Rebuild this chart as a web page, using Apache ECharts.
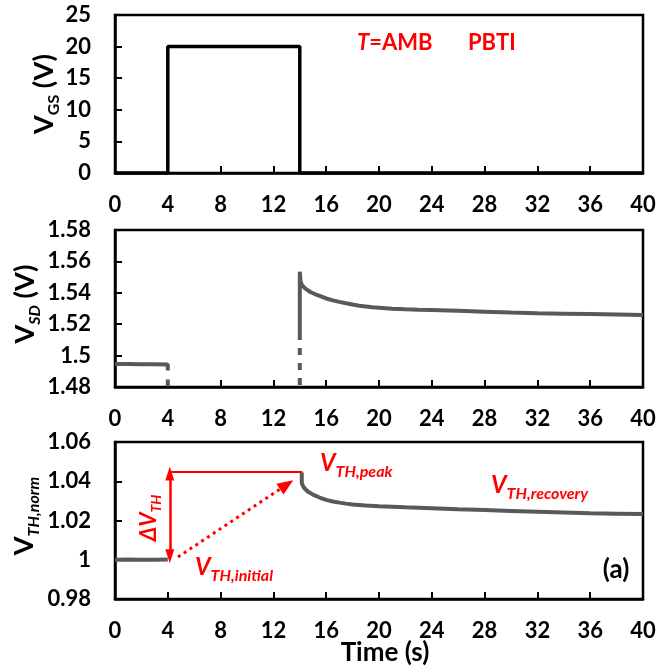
<!DOCTYPE html>
<html><head><meta charset="utf-8">
<script src="https://cdn.jsdelivr.net/npm/echarts@6/dist/echarts.min.js"></script>
<style>html,body{margin:0;padding:0;background:#fff}#c{width:660px;height:668px}</style>
</head><body><div id="c"></div>
<script>
// ---- data (time in s) ----
const vgsPulse = [[0,0],[4,0],[4,20],[14,20],[14,0],[40,0]];

const vsdBefore = [[0,1.4946],[1,1.4946],[2,1.4945],[3,1.4945],[4,1.4944],[4,1.4905]];
const vsdGapAt4 = [[4,1.4848],[4,1.48]];
const vsdGapAt14 = [[14,1.5048],[14,1.48]];
const vsdAfter = [[14,1.5099],[14,1.5534],[14.05,1.5480],[14.15,1.5450],[14.4,1.5428],[14.8,1.5405],
  [15.3,1.5386],[16,1.5364],[16.5,1.5352],[17,1.5342],[17.5,1.5333],[18,1.5325],[18.5,1.5318],
  [19,1.5313],[19.5,1.5308],[20,1.5305],[21,1.5299],[22,1.5295],[23,1.5292],
  [24,1.5290],[26,1.5285],[28,1.5280],[30,1.5274],[32,1.5269],[34,1.5267],[36,1.5265],[38,1.5262],[40,1.5259]];

const vthBefore = [[0,1.0000],[1,1.0001],[2,1.0000],[3,1.0000],[4,1.0001]];
const vthAfter = [[14.15,1.0444],[14.15,1.0390],[14.3,1.0368],[14.6,1.0348],[15,1.0332],[15.5,1.0317],
  [16,1.0305],[16.5,1.0297],[17,1.0291],[17.5,1.0286],[18,1.0282],[19,1.0277],[20,1.0273],[21,1.0270],[22,1.0267],[24,1.0262],[26,1.0257],
  [28,1.0253],[30,1.0249],[32,1.0245],[34,1.0241],[36,1.0237],[38,1.0235],[40,1.0233]];

// annotation anchors (data coordinates)
const peakLevelLine = [[4.15,1.0449],[14.2,1.0449]];
const deltaArrow = [[4.15,1.0440],[4.15,1.0018]];
const driftArrow = [[4.77,1.0014],[13.0,1.0382]];

// axis ranges / ticks
const timeRange = [0, 40, 4];
const vgsRange = [0, 25, 5];
const vsdRange = [1.48, 1.58, 0.02];
const vthRange = [0.98, 1.06, 0.02];

const FONT = 'Lato';
const RED = '#ff0000';
const GRAY = '#595959';
const grids = [
  {left:115, right:17, top:15, height:158},
  {left:115, right:17, top:230, height:157},
  {left:115, right:17, top:442, height:157}
];
function fmt(v){ return String(Number(v.toFixed(2))); }
function xAx(i){
  return {type:'value', gridIndex:i, min:timeRange[0], max:timeRange[1], interval:timeRange[2],
    axisLine:{show:true, onZero:false, lineStyle:{color:'#000', width:2.5}},
    axisTick:{show:true, inside:true, length:7, lineStyle:{color:'#000', width:2}},
    axisLabel:{margin:21, fontFamily:FONT, fontWeight:'bold', fontSize:22, color:'#000', formatter:fmt},
    splitLine:{show:false}};
}
function yAx(i, r){
  return {type:'value', gridIndex:i, min:r[0], max:r[1], interval:r[2],
    axisLine:{show:true, onZero:false, lineStyle:{color:'#000', width:2.5}},
    axisTick:{show:true, inside:true, length:7, lineStyle:{color:'#000', width:2}},
    axisLabel:{margin:24, fontFamily:FONT, fontWeight:'bold', fontSize:22, color:'#000', formatter:fmt},
    splitLine:{show:false}};
}
function ln(i, data, color, width, type, z){
  return {type:'line', xAxisIndex:i, yAxisIndex:i, data:data, symbol:'none', showSymbol:false,
    animation:false, silent:true, z:z||2, lineStyle:{color:color, width:width, type:type||'solid'}};
}
function seg(pts, opts){
  const a = Object.assign({coord:pts[0]}, opts.from||{symbol:'none'});
  const b = Object.assign({coord:pts[1]}, opts.to||{symbol:'none'});
  return [a,b];
}

const annotSeries = ln(2, [], RED, 2, 'solid', 5);
annotSeries.markLine = {
  silent:true, animation:false, label:{show:false}, symbol:['none','none'],
  emphasis:{disabled:true},
  data:[
    Object.assign(seg(peakLevelLine, {}), {lineStyle:{color:RED, width:2, type:'solid'}}),
    Object.assign(seg(deltaArrow, {from:{symbol:'triangle', symbolSize:[9,14]}, to:{symbol:'triangle', symbolSize:[9,14]}}),
      {lineStyle:{color:RED, width:2.5, type:'solid'}}),
    Object.assign(seg(driftArrow, {to:{symbol:'triangle', symbolSize:[13,16]}}),
      {lineStyle:{color:RED, width:3, type:[3,4]}})
  ]
};
annotSeries.markLine.data.forEach(d => { d[0].lineStyle = d.lineStyle; });

const vStyle = (size, color, italic) => ({fontSize:size, lineHeight:size, fontWeight:'bold', fontFamily:FONT, fill:color, fontStyle: italic?'italic':'normal'});
const subStyle = (size, color, italic, pad) => ({fontSize:size, lineHeight:size, fontWeight:'bold', fontFamily:FONT, fill:color, fontStyle: italic?'italic':'normal', padding:[pad,0,0,0]});

function txt(x, y, text, rich, align, rot){
  return {type:'text', x:x, y:y, rotation:rot||0, silent:true, z:100,
    style:{text:text, align:align||'left', verticalAlign:'middle', rich:rich, fontFamily:FONT, fontWeight:'bold'}};
}
const titleRich = (subItalic) => ({v:vStyle(27,'#000',false), s:subStyle(16,'#000',subItalic,20)});
const annRich = {v:vStyle(24,RED,true), s:subStyle(16,RED,true,17)};

const graphic = [
  txt(44, 94, '{v|V}{s|GS}{v| (V)}', titleRich(false), 'center', Math.PI/2),
  txt(25, 304, '{v|V}{s|SD}{v| (V)}', titleRich(true), 'center', Math.PI/2),
  txt(24, 516, '{v|V}{s|TH,norm}', titleRich(true), 'center', Math.PI/2),
  txt(357, 43, '{i|T}{b|=AMB}', {i:vStyle(22,RED,true), b:vStyle(22,RED,false)}, 'left'),
  txt(468, 43, '{b|PBTI}', {b:vStyle(22,RED,false)}, 'left'),
  txt(320, 463, '{v|V}{s|TH,peak}', annRich, 'left'),
  txt(491, 485, '{v|V}{s|TH,recovery}', annRich, 'left'),
  txt(195, 567, '{v|V}{s|TH,initial}', annRich, 'left'),
  txt(149, 518, '{v|ΔV}{s|TH}', {v:vStyle(22,RED,true), s:subStyle(14,RED,true,15)}, 'center', Math.PI/2),
  txt(616, 570, '{b|(a)}', {b:vStyle(26,'#000',false)}, 'center'),
  txt(385, 653, '{b|Time (s)}', {b:vStyle(26,'#000',false)}, 'center')
];

const chart = echarts.init(document.getElementById('c'), null, {renderer:'canvas'});
chart.setOption({
  animation:false,
  backgroundColor:'#fff',
  grid: grids.map(g => Object.assign({show:true, borderColor:'#000', borderWidth:2.5, backgroundColor:'transparent'}, g)),
  xAxis:[xAx(0), xAx(1), xAx(2)],
  yAxis:[yAx(0,vgsRange), yAx(1,vsdRange), yAx(2,vthRange)],
  series:[
    ln(0, vgsPulse, '#000', 3.5),
    ln(1, vsdBefore, GRAY, 4),
    ln(1, vsdGapAt4, GRAY, 4, [7,8]),
    ln(1, vsdGapAt14, GRAY, 4, [7,8]),
    ln(1, vsdAfter, GRAY, 4),
    ln(2, vthBefore, GRAY, 4),
    ln(2, vthAfter, GRAY, 4),
    annotSeries
  ],
  graphic: graphic
});
</script></body></html>
